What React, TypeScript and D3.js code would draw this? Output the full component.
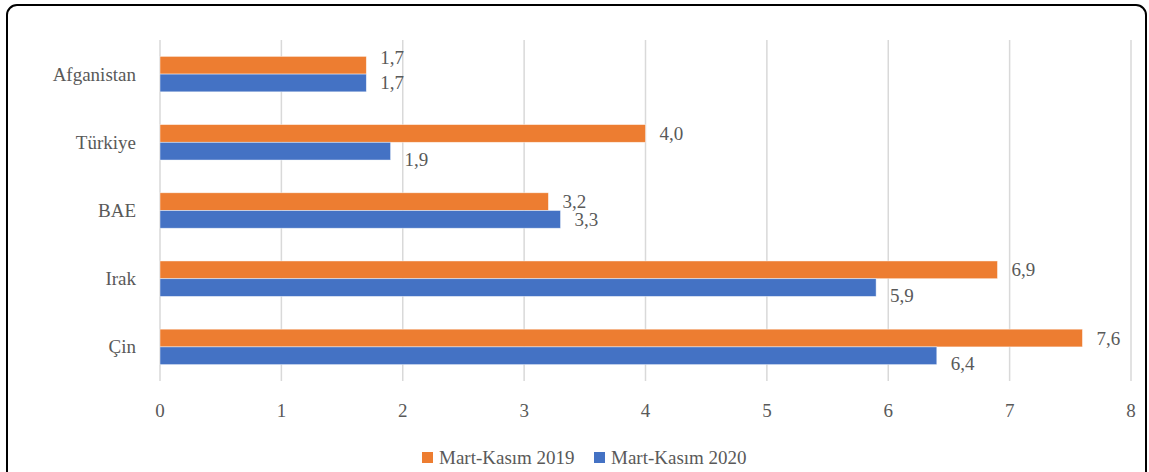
import React, { useEffect, useRef } from 'react';
import * as d3 from 'd3';

const categories = ['Afganistan', 'Türkiye', 'BAE', 'Irak', 'Çin'];
const values2019 = [1.7, 4.0, 3.2, 6.9, 7.6];
const values2020 = [1.7, 1.9, 3.3, 5.9, 6.4];
const seriesNames = ['Mart-Kasım 2019', 'Mart-Kasım 2020'];
const xTicks = [0, 1, 2, 3, 4, 5, 6, 7, 8];

const W = 1149;
const H = 472;
const FONT = '"Liberation Serif", "Times New Roman", serif';
const FS = 19;
const TEXT = '#595959';
const ORANGE = '#ED7D31';
const BLUE = '#4472C4';

function draw(svgRoot: SVGSVGElement) {
    const svg = d3.select(svgRoot);
    svg.selectChildren().remove();

    const plot = { left: 160, right: 1131, top: 40, bottom: 381 };

    const x = d3.scaleLinear().domain([0, 8]).range([plot.left, plot.right]);
    const y = d3.scaleBand<string>().domain(categories).range([plot.top, plot.bottom]).paddingInner(0.48).paddingOuter(0.24);
    const inner = d3.scaleBand<string>().domain(['a', 'b']).range([0, y.bandwidth()]);

    // outer frame
    svg.append('rect')
        .attr('x', 7).attr('y', 5)
        .attr('width', W - 10).attr('height', H + 20)
        .attr('rx', 10)
        .attr('fill', '#fff')
        .attr('stroke', '#000')
        .attr('stroke-width', 2);

    // grid
    svg.append('g')
        .selectAll('line')
        .data(xTicks)
        .join('line')
        .attr('x1', (d) => x(d)).attr('x2', (d) => x(d))
        .attr('y1', plot.top).attr('y2', plot.bottom)
        .attr('stroke', '#d9d9d9')
        .attr('stroke-width', 1.5);

    // tick labels
    svg.append('g')
        .selectAll('text')
        .data(xTicks)
        .join('text')
        .attr('x', (d) => x(d))
        .attr('y', 410)
        .attr('text-anchor', 'middle')
        .attr('dominant-baseline', 'central')
        .style('font-family', FONT)
        .style('font-size', FS + 'px')
        .attr('fill', TEXT)
        .text((d) => d);

    // category labels
    svg.append('g')
        .selectAll('text')
        .data(categories)
        .join('text')
        .attr('x', 136)
        .attr('y', (d) => (y(d) ?? 0) + y.bandwidth() / 2)
        .attr('text-anchor', 'end')
        .attr('dominant-baseline', 'central')
        .style('font-family', FONT)
        .style('font-size', FS + 'px')
        .attr('fill', TEXT)
        .text((d) => d);

    const fmt = (v: number) => v.toFixed(1).replace('.', ',');

    const series = [
        { key: 'a', values: values2019, color: ORANGE },
        { key: 'b', values: values2020, color: BLUE },
    ];

    series.forEach((s, si) => {
        const g = svg.append('g');
        g.selectAll('rect')
            .data(s.values)
            .join('rect')
            .attr('x', x(0))
            .attr('y', (d, i) => (y(categories[i]) ?? 0) + (inner(s.key) ?? 0))
            .attr('width', (d) => x(d) - x(0))
            .attr('height', inner.bandwidth())
            .attr('fill', s.color)
            .attr('stroke', '#fff')
            .attr('stroke-opacity', 0.6)
            .attr('stroke-width', 0.75);

        // data labels, nudged like the original to avoid collisions
        g.selectAll('text')
            .data(s.values)
            .join('text')
            .attr('x', (d) => x(d) + 14)
            .attr('y', (d, i) => {
                const cy = (y(categories[i]) ?? 0) + (inner(s.key) ?? 0) + inner.bandwidth() / 2;
                const o = values2019[i];
                const b = values2020[i];
                if (si === 0 && o === b) return cy - 8;
                if (si === 1 && o > b) return cy + 8;
                return cy;
            })
            .attr('dominant-baseline', 'central')
            .style('font-family', FONT)
            .style('font-size', FS + 'px')
            .attr('fill', TEXT)
            .text((d) => fmt(d));
    });

    // legend
    const legend = svg.append('g');
    const lx = [422, 594];
    seriesNames.forEach((name, i) => {
        legend.append('rect')
            .attr('x', lx[i]).attr('y', 452)
            .attr('width', 11).attr('height', 11)
            .attr('fill', i === 0 ? ORANGE : BLUE);
        legend.append('text')
            .attr('x', lx[i] + 17).attr('y', 457)
            .attr('dominant-baseline', 'central')
            .style('font-family', FONT)
            .style('font-size', FS + 'px')
            .attr('fill', TEXT)
            .text(name);
    });
}

export default function App() {
    const svgRef = useRef<SVGSVGElement>(null);

    useEffect(() => {
        svgRef.current && draw(svgRef.current);
    }, []);

    return (
        <div style={{ position: 'fixed', left: 0, top: 0, width: W, height: H, overflow: 'hidden', background: '#fff' }}>
            <svg ref={svgRef} width={W} height={H} style={{ display: 'block' }} />
        </div>
    );
}
